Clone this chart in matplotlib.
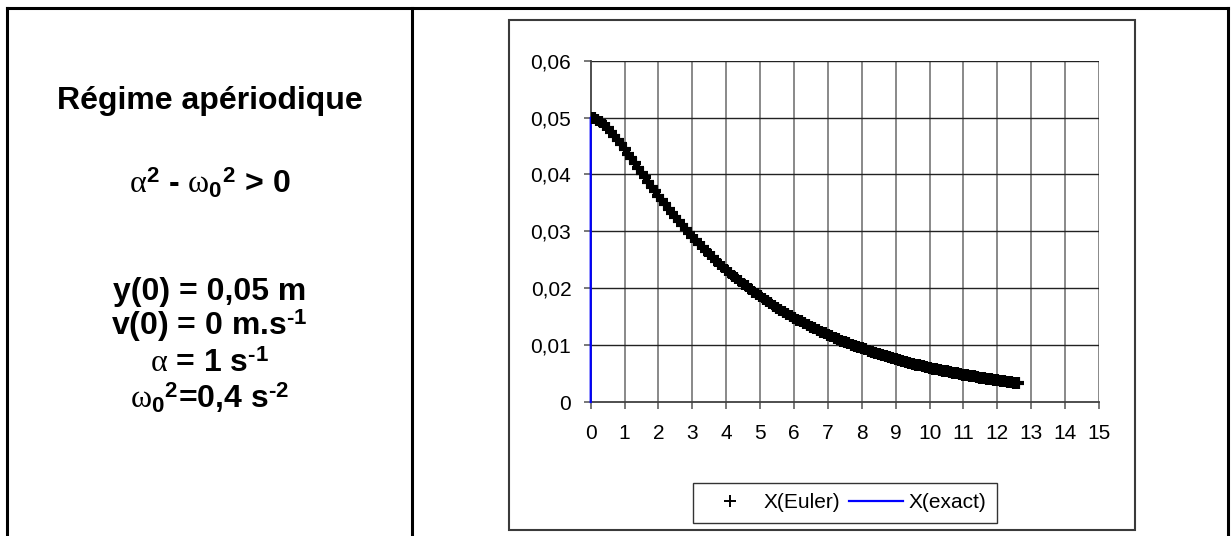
import matplotlib
matplotlib.use("Agg")
import matplotlib.pyplot as plt
from matplotlib.lines import Line2D
from matplotlib.patches import Rectangle
from matplotlib.ticker import FuncFormatter, MultipleLocator

plt.rcParams["font.family"] = ["Liberation Sans", "DejaVu Sans"]
plt.rcParams["mathtext.fontset"] = "custom"
plt.rcParams["mathtext.rm"] = "Liberation Serif"
plt.rcParams["mathtext.it"] = "Liberation Serif:italic"
plt.rcParams["mathtext.bf"] = "Liberation Sans:bold"

# temps (s) et position (m) du schéma d'Euler
t_euler = [0.0, 0.1, 0.2, 0.3, 0.4, 0.5, 0.6, 0.7, 0.8, 0.9,
           1.0, 1.1, 1.2, 1.3, 1.4, 1.5, 1.6, 1.7, 1.8, 1.9,
           2.0, 2.1, 2.2, 2.3, 2.4, 2.5, 2.6, 2.7, 2.8, 2.9,
           3.0, 3.1, 3.2, 3.3, 3.4, 3.5, 3.6, 3.7, 3.8, 3.9,
           4.0, 4.1, 4.2, 4.3, 4.4, 4.5, 4.6, 4.7, 4.8, 4.9,
           5.0, 5.1, 5.2, 5.3, 5.4, 5.5, 5.6, 5.7, 5.8, 5.9,
           6.0, 6.1, 6.2, 6.3, 6.4, 6.5, 6.6, 6.7, 6.8, 6.9,
           7.0, 7.1, 7.2, 7.3, 7.4, 7.5, 7.6, 7.7, 7.8, 7.9,
           8.0, 8.1, 8.2, 8.3, 8.4, 8.5, 8.6, 8.7, 8.8, 8.9,
           9.0, 9.1, 9.2, 9.3, 9.4, 9.5, 9.6, 9.7, 9.8, 9.9,
           10.0, 10.1, 10.2, 10.3, 10.4, 10.5, 10.6, 10.7, 10.8, 10.9,
           11.0, 11.1, 11.2, 11.3, 11.4, 11.5, 11.6, 11.7, 11.8, 11.9,
           12.0, 12.1, 12.2, 12.3, 12.4, 12.5, 12.6]
x_euler = [0.05000, 0.04991, 0.04965, 0.04926, 0.04876, 0.04817, 0.04752, 0.04682, 0.04607, 0.04529,
           0.04448, 0.04367, 0.04284, 0.04200, 0.04117, 0.04034, 0.03951, 0.03869, 0.03787, 0.03707,
           0.03628, 0.03550, 0.03473, 0.03398, 0.03324, 0.03252, 0.03180, 0.03111, 0.03042, 0.02975,
           0.02909, 0.02845, 0.02782, 0.02720, 0.02660, 0.02601, 0.02543, 0.02487, 0.02431, 0.02377,
           0.02324, 0.02273, 0.02222, 0.02173, 0.02124, 0.02077, 0.02031, 0.01985, 0.01941, 0.01898,
           0.01856, 0.01814, 0.01774, 0.01734, 0.01696, 0.01658, 0.01621, 0.01585, 0.01549, 0.01515,
           0.01481, 0.01448, 0.01416, 0.01384, 0.01353, 0.01323, 0.01294, 0.01265, 0.01237, 0.01209,
           0.01182, 0.01156, 0.01130, 0.01105, 0.01080, 0.01056, 0.01033, 0.01010, 0.00987, 0.00965,
           0.00944, 0.00923, 0.00902, 0.00882, 0.00862, 0.00843, 0.00824, 0.00806, 0.00788, 0.00770,
           0.00753, 0.00736, 0.00720, 0.00704, 0.00688, 0.00673, 0.00658, 0.00643, 0.00629, 0.00615,
           0.00601, 0.00588, 0.00575, 0.00562, 0.00549, 0.00537, 0.00525, 0.00513, 0.00502, 0.00491,
           0.00480, 0.00469, 0.00459, 0.00449, 0.00439, 0.00429, 0.00419, 0.00410, 0.00401, 0.00392,
           0.00383, 0.00374, 0.00366, 0.00358, 0.00350, 0.00342, 0.00335]

# solution exacte : la série démarre au point (0 ; 0)
t_exact = [0.0] + t_euler
x_exact = [0.0] + x_euler

W, H = 1231, 536
fig = plt.figure(figsize=(W / 100, H / 100), dpi=100)


def fx(px):
    return px / W


def fy(py):
    return 1 - py / H


# cadre du tableau
for xs, ys in [((7, 1228), (8, 8)), ((7, 7), (8, 536)),
               ((412, 412), (8, 536)), ((1228, 1228), (8, 536))]:
    fig.add_artist(Line2D([fx(xs[0]), fx(xs[1])], [fy(ys[0]), fy(ys[1])],
                          transform=fig.transFigure, color="black", lw=2.2))

# texte de la cellule de gauche
cx = fx(209.5)
txt = dict(ha="center", va="baseline", fontsize=23, fontweight="bold")
fig.text(cx, fy(109), "Régime apériodique", **txt)
fig.text(cx, fy(193), r"$\mathrm{\alpha}^{\mathbf{2}}$ - $\mathrm{\omega}_{\mathbf{0}}{}^{\mathbf{2}}$ > 0", **txt)
fig.text(cx, fy(300), "y(0) = 0,05 m", **txt)
fig.text(cx, fy(335), "v(0) = 0 m.s$^{\\mathbf{\u20101}}$", **txt)
fig.text(cx, fy(372), "$\\mathrm{\\alpha}$ = 1 s$^{\\mathbf{\u20101}}$", **txt)
fig.text(cx, fy(408), "$\\mathrm{\\omega}_{\\mathbf{0}}{}^{\\mathbf{2}}$=0,4 s$^{\\mathbf{\u20102}}$", **txt)

# cadre du graphique
fig.add_artist(Rectangle((fx(509), fy(530)), fx(1135) - fx(509), fy(20) - fy(530),
                         transform=fig.transFigure, fill=False,
                         edgecolor="#3a3a3a", lw=1.5))

ax = fig.add_axes([fx(590.7), fy(402), fx(1099) - fx(590.7), fy(60.7) - fy(402)])
ax.plot(t_exact, x_exact, color="#0000ff", lw=1.6, zorder=2.6, clip_on=False,
        label="X(exact)")
ax.plot(t_euler, x_euler, linestyle="none", marker="+", color="black",
        markersize=8, markeredgewidth=3.0, zorder=3, label="X(Euler)")

ax.set_xlim(0, 15)
ax.set_ylim(0, 0.06)
ax.xaxis.set_major_locator(MultipleLocator(1))
ax.yaxis.set_major_locator(MultipleLocator(0.01))
ax.yaxis.set_major_formatter(FuncFormatter(
    lambda v, p: "0" if abs(v) < 1e-9 else f"{v:.2f}".replace(".", ",")))
ax.xaxis.set_major_formatter(FuncFormatter(lambda v, p: f"{v:.0f}"))

for x in range(1, 16):
    ax.axvline(x, color="#808080", lw=1.3, zorder=1)
for y in [0.01, 0.02, 0.03, 0.04, 0.05, 0.06]:
    ax.axhline(y, color="#222222", lw=1.0, zorder=1)

for s in ["top", "right"]:
    ax.spines[s].set_visible(False)
for s in ["left", "bottom"]:
    ax.spines[s].set_color("#404040")
    ax.spines[s].set_linewidth(1.3)
ax.tick_params(direction="out", length=5, width=1.2, color="#606060",
               labelsize=15, pad=9)
ax.tick_params(axis="x", pad=11)

handles, labels = ax.get_legend_handles_labels()
leg = fig.legend(handles[::-1], labels[::-1], ncol=2, loc="center",
                 bbox_to_anchor=(fx(845), fy(503)), fontsize=15,
                 frameon=True, fancybox=False, edgecolor="black",
                 handlelength=2.6, handletextpad=0.3, columnspacing=0.4,
                 borderpad=0.5)
leg.get_frame().set_linewidth(1.0)

# marqueur "+" plus fin dans la légende
leg.legend_handles[0].set_markeredgewidth(1.4)
leg.legend_handles[0].set_markersize(8.5)

fig.savefig("out.png", dpi=100)
